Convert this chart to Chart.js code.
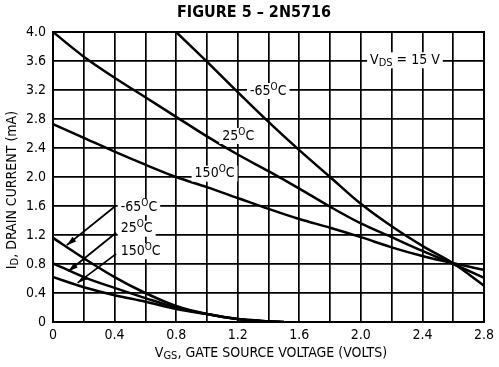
<!DOCTYPE html>
<html>
<head>
<meta charset="utf-8">
<script src="https://cdn.jsdelivr.net/npm/chart.js@4/dist/chart.umd.min.js"></script>
<style>
  html, body { margin: 0; padding: 0; background: #fff; }
  #wrap { width: 499px; height: 367px; }
</style>
</head>
<body>
<div id="wrap"><canvas id="chart" width="499" height="367"></canvas></div>
<script>
const FONT = "'Liberation Sans Narrow', 'DejaVu Sans Condensed', 'Roboto', sans-serif";

// gate source voltage (V)
const vgsUpper = [0, 0.2, 0.4, 0.6, 0.8, 1.0, 1.2, 1.4, 1.6, 1.8, 2.0, 2.2, 2.4, 2.6, 2.8];
const vgsLower = [0, 0.2, 0.4, 0.6, 0.8, 1.0, 1.2, 1.4, 1.5];

// drain current (mA), upper family
const upperM65 = [null, null, null, null, 4.0, 3.59, 3.17, 2.76, 2.37, 2.0, 1.63, 1.32, 1.05, 0.81, 0.50];
const upper25 = [4.0, 3.66, 3.37, 3.10, 2.83, 2.56, 2.31, 2.08, 1.84, 1.59, 1.36, 1.17, 0.98, 0.80, 0.61];
const upper150 = [2.73, 2.54, 2.35, 2.17, 2.0, 1.86, 1.71, 1.56, 1.42, 1.30, 1.17, 1.03, 0.91, 0.81, 0.72];

// drain current (mA), lower family
const lowerM65 = [1.16, 0.88, 0.62, 0.40, 0.22, 0.11, 0.04, 0.01, 0];
const lower25 = [0.81, 0.62, 0.47, 0.33, 0.20, 0.11, 0.04, 0.01, 0];
const lower150 = [0.62, 0.48, 0.37, 0.28, 0.18, 0.11, 0.04, 0.01, 0];

const xTicks = ['0', '0.4', '0.8', '1.2', '1.6', '2.0', '2.4', '2.8'];
const yTicks = ['0', '0.4', '0.8', '1.2', '1.6', '2.0', '2.4', '2.8', '3.2', '3.6', '4.0'];

// curve labels: [temperature, x, y] in data units
const curveLabels = [
  ['-65', 1.28, 3.2],
  ['25', 1.10, 2.58],
  ['150', 0.92, 2.06],
  ['-65', 0.44, 1.6],
  ['25', 0.44, 1.30],
  ['150', 0.44, 0.99]
];
// arrows: [fromX, fromY, toX, toY]
const arrows = [
  [0.40, 1.59, 0.09, 1.06],
  [0.41, 1.23, 0.10, 0.70],
  [0.41, 0.94, 0.16, 0.54]
];

function toPoints(xs, ys) {
  const pts = [];
  xs.forEach((x, i) => { if (ys[i] !== null) pts.push({ x: x, y: ys[i] }); });
  return pts;
}

function curve(xs, ys) {
  return {
    data: toPoints(xs, ys),
    showLine: true,
    borderColor: '#000',
    borderWidth: 2.5,
    pointRadius: 0,
    cubicInterpolationMode: 'monotone'
  };
}

// text made of parts, some subscript or superscript
function partFont(p, size, weight) {
  const s = p.sub ? size - 3 : p.sup ? size - 4 : size;
  return (weight || '') + ' ' + s + 'px ' + FONT;
}
function partsWidth(ctx, parts, size, weight) {
  let w = 0;
  parts.forEach(p => {
    ctx.font = partFont(p, size, weight);
    w += ctx.measureText(p.t).width;
  });
  return w;
}
function drawParts(ctx, parts, x, y, size, weight) {
  let cx = x;
  parts.forEach(p => {
    ctx.font = partFont(p, size, weight);
    ctx.fillText(p.t, cx, p.sub ? y + 3 : p.sup ? y - 4 : y);
    cx += ctx.measureText(p.t).width;
  });
}

function boxParts(ctx, parts, x, y, size) {
  const w = partsWidth(ctx, parts, size);
  ctx.fillStyle = '#fff';
  ctx.fillRect(x - 3, y - size / 2 - 1, w + 6, size + 2);
  ctx.fillStyle = '#000';
  ctx.textBaseline = 'middle';
  ctx.textAlign = 'left';
  drawParts(ctx, parts, x, y, size);
}

const decorPlugin = {
  id: 'decor',
  afterDatasetsDraw(chart) {
    const ctx = chart.ctx;
    const xs = chart.scales.x, ys = chart.scales.y;
    ctx.save();
    // curve labels
    curveLabels.forEach(l => {
      const parts = [{ t: l[0] }, { t: 'O', sup: true }, { t: 'C' }];
      boxParts(ctx, parts, xs.getPixelForValue(l[1]), ys.getPixelForValue(l[2]) + 1, 14);
    });
    // VDS label
    const vx = xs.getPixelForValue(2.06), vy = ys.getPixelForValue(3.61);
    boxParts(ctx, [{ t: 'V' }, { t: 'DS', sub: true }, { t: ' = 15 V' }], vx, vy, 14);
    // arrows
    ctx.strokeStyle = '#000';
    ctx.lineWidth = 1.8;
    arrows.forEach(a => {
      const x1 = xs.getPixelForValue(a[0]), y1 = ys.getPixelForValue(a[1]);
      const x2 = xs.getPixelForValue(a[2]), y2 = ys.getPixelForValue(a[3]);
      ctx.beginPath();
      ctx.moveTo(x1, y1);
      ctx.lineTo(x2, y2);
      ctx.stroke();
      const ang = Math.atan2(y2 - y1, x2 - x1);
      ctx.beginPath();
      ctx.moveTo(x2, y2);
      ctx.lineTo(x2 - 10 * Math.cos(ang - 0.3), y2 - 10 * Math.sin(ang - 0.3));
      ctx.lineTo(x2 - 10 * Math.cos(ang + 0.3), y2 - 10 * Math.sin(ang + 0.3));
      ctx.closePath();
      ctx.fill();
    });
    ctx.restore();
  },
  afterDraw(chart) {
    const ctx = chart.ctx;
    const area = chart.chartArea;
    ctx.save();
    ctx.fillStyle = '#000';
    ctx.textBaseline = 'middle';
    // title
    ctx.font = 'bold 16px ' + FONT;
    ctx.textAlign = 'center';
    ctx.fillText('FIGURE 5 \u2013 2N5716', 254, 13);
    ctx.textAlign = 'left';
    // x title
    const xparts = [{ t: 'V' }, { t: 'GS', sub: true }, { t: ', GATE SOURCE VOLTAGE (VOLTS)' }];
    const xw = partsWidth(ctx, xparts, 14);
    drawParts(ctx, xparts, 271 - xw / 2, 353, 14);
    // y title
    const yparts = [{ t: 'I' }, { t: 'D', sub: true }, { t: ', DRAIN CURRENT (mA)' }];
    const yw = partsWidth(ctx, yparts, 14);
    ctx.translate(12, 190);
    ctx.rotate(-Math.PI / 2);
    drawParts(ctx, yparts, -yw / 2, 0, 14);
    // plot frame
    ctx.restore();
    ctx.save();
    ctx.strokeStyle = '#000';
    ctx.lineWidth = 2;
    ctx.strokeRect(area.left, area.top, area.right - area.left, area.bottom - area.top);
    ctx.restore();
  }
};

const ctx = document.getElementById('chart').getContext('2d');
const chart = new Chart(ctx, {
  type: 'scatter',
  data: {
    datasets: [
      curve(vgsUpper, upperM65),
      curve(vgsUpper, upper25),
      curve(vgsUpper, upper150),
      curve(vgsLower, lowerM65),
      curve(vgsLower, lower25),
      curve(vgsLower, lower150)
    ]
  },
  options: {
    responsive: false,
    animation: false,
    layout: { padding: { left: 0, right: 7, top: 32, bottom: 0 } },
    plugins: {
      legend: { display: false },
      tooltip: { enabled: false },
      title: { display: false }
    },
    scales: {
      x: {
        type: 'linear',
        min: 0,
        max: 2.8,
        afterFit: s => { s.height = 45; },
        afterBuildTicks: s => {
          s.ticks = Array.from({ length: 15 }, (_, i) => ({ value: i * 0.2 }));
        },
        grid: { color: '#000', lineWidth: 1.7, drawTicks: false },
        border: { color: '#000', width: 2 },
        ticks: {
          padding: 5,
          color: '#000',
          autoSkip: false,
          maxRotation: 0,
          font: { family: FONT, size: 14 },
          callback: (v, i) => (i % 2 === 0 ? xTicks[i / 2] : '')
        }
      },
      y: {
        type: 'linear',
        min: 0,
        max: 4.0,
        afterFit: s => { s.width = 53; },
        afterBuildTicks: s => {
          s.ticks = yTicks.map((_, i) => ({ value: i * 0.4 }));
        },
        grid: { color: '#000', lineWidth: 1.7, drawTicks: false },
        border: { color: '#000', width: 2 },
        ticks: {
          padding: 7,
          color: '#000',
          autoSkip: false,
          font: { family: FONT, size: 14 },
          callback: (v, i) => yTicks[i]
        }
      }
    }
  },
  plugins: [decorPlugin]
});
</script>
</body>
</html>
